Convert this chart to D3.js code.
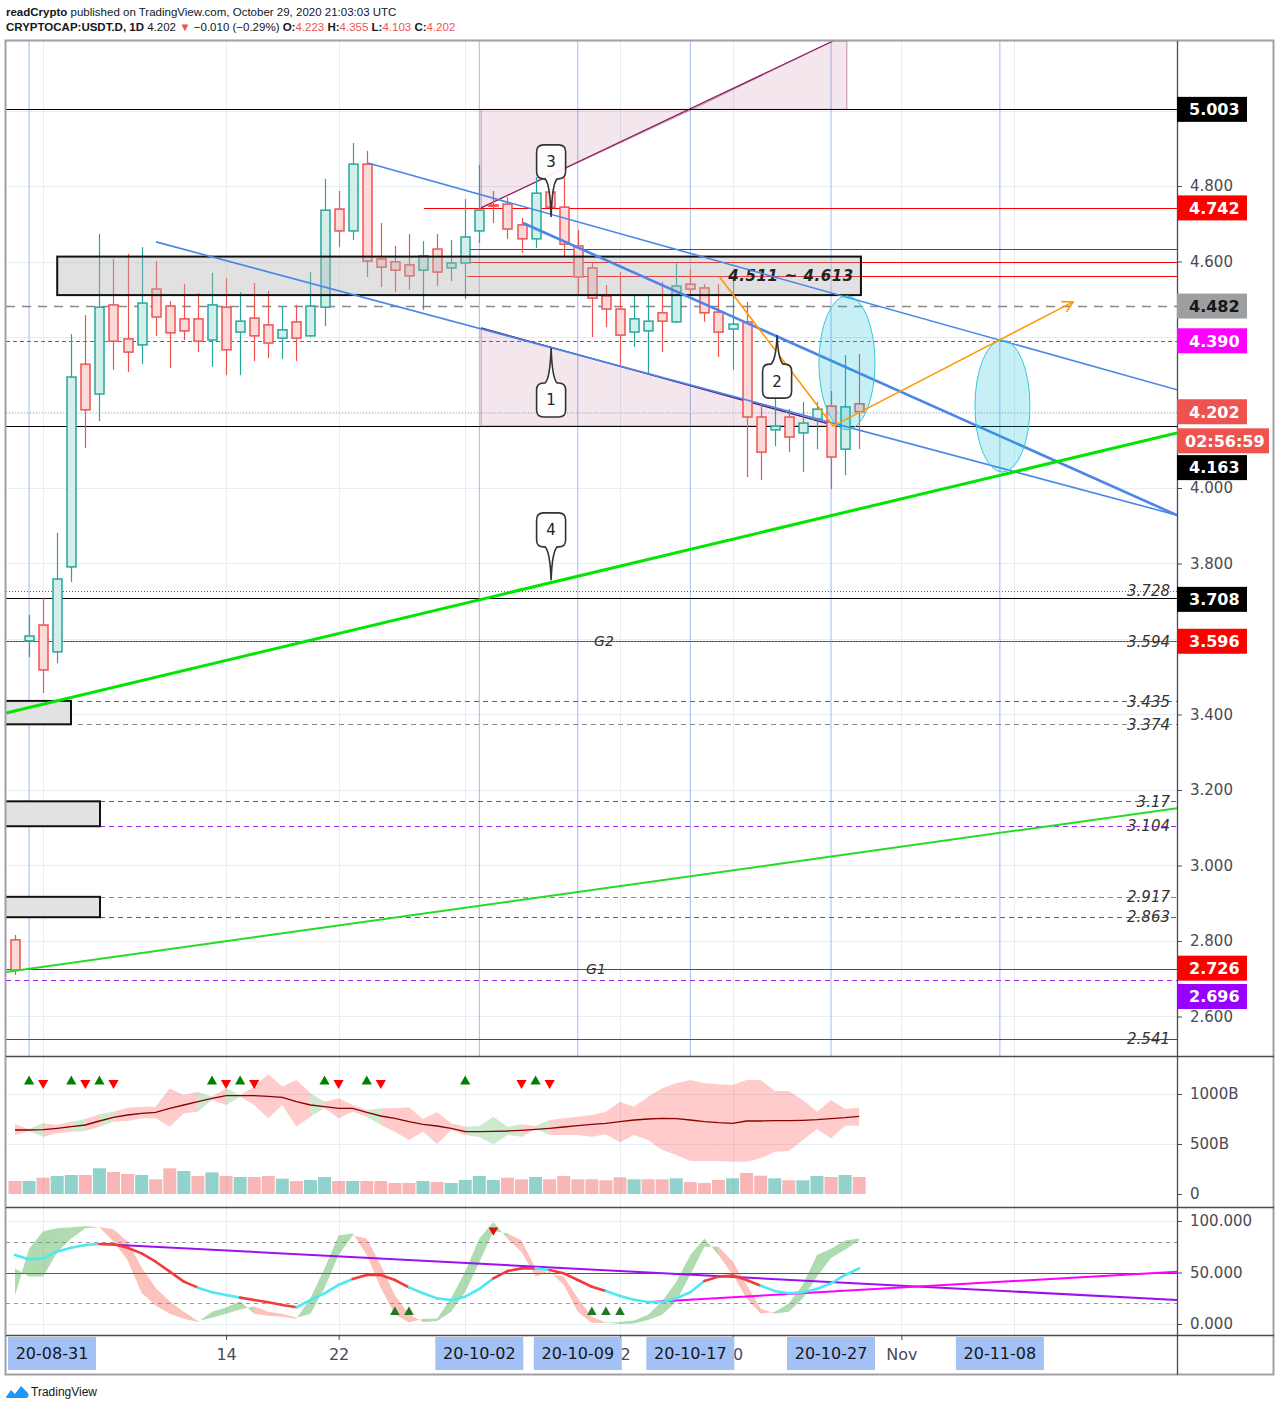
<!DOCTYPE html>
<html><head><meta charset="utf-8">
<script src="https://cdn.jsdelivr.net/npm/d3@7"></script>
<style>body{margin:0;background:#fff}svg{display:block}</style>
</head><body>
<svg id="c" width="1280" height="1409"></svg>
<script>
// ---------------- DATA ----------------
const dates = ["2020-08-30","2020-08-31","2020-09-01","2020-09-02","2020-09-03","2020-09-04","2020-09-05","2020-09-06","2020-09-07","2020-09-08","2020-09-09","2020-09-10","2020-09-11","2020-09-12","2020-09-13","2020-09-14","2020-09-15","2020-09-16","2020-09-17","2020-09-18","2020-09-19","2020-09-20","2020-09-21","2020-09-22","2020-09-23","2020-09-24","2020-09-25","2020-09-26","2020-09-27","2020-09-28","2020-09-29","2020-09-30","2020-10-01","2020-10-02","2020-10-03","2020-10-04","2020-10-05","2020-10-06","2020-10-07","2020-10-08","2020-10-09","2020-10-10","2020-10-11","2020-10-12","2020-10-13","2020-10-14","2020-10-15","2020-10-16","2020-10-17","2020-10-18","2020-10-19","2020-10-20","2020-10-21","2020-10-22","2020-10-23","2020-10-24","2020-10-25","2020-10-26","2020-10-27","2020-10-28","2020-10-29"];
const openP  = [2.803,3.595,3.637,3.566,3.791,4.328,4.249,4.485,4.395,4.379,4.527,4.482,4.448,4.448,4.392,4.479,4.413,4.450,4.432,4.397,4.440,4.403,4.479,4.739,4.681,4.858,4.607,4.599,4.591,4.577,4.633,4.583,4.596,4.681,4.750,4.752,4.697,4.660,4.784,4.744,4.641,4.583,4.509,4.474,4.413,4.416,4.464,4.440,4.540,4.530,4.466,4.421,4.440,4.188,4.154,4.188,4.146,4.183,4.217,4.103,4.223];
const highP  = [2.816,3.664,3.709,3.881,4.408,4.458,4.673,4.607,4.620,4.638,4.601,4.495,4.540,4.517,4.570,4.556,4.519,4.543,4.522,4.482,4.485,4.572,4.819,4.787,4.914,4.893,4.702,4.641,4.673,4.654,4.673,4.657,4.766,4.856,4.787,4.771,4.715,4.824,4.824,4.821,4.683,4.596,4.538,4.572,4.511,4.514,4.546,4.596,4.580,4.540,4.540,4.559,4.493,4.223,4.252,4.209,4.228,4.228,4.257,4.352,4.355];
const lowP   = [2.710,3.552,3.457,3.536,3.751,4.106,4.177,4.313,4.307,4.328,4.403,4.318,4.392,4.360,4.321,4.299,4.299,4.336,4.344,4.342,4.336,4.400,4.429,4.638,4.657,4.559,4.532,4.519,4.525,4.472,4.535,4.548,4.501,4.649,4.702,4.660,4.623,4.636,4.728,4.612,4.514,4.400,4.426,4.326,4.374,4.305,4.360,4.437,4.509,4.440,4.347,4.313,4.029,4.021,4.111,4.095,4.042,4.103,3.997,4.034,4.103];
const closeP = [2.723,3.608,3.518,3.759,4.294,4.207,4.479,4.389,4.360,4.490,4.453,4.411,4.416,4.389,4.485,4.366,4.442,4.403,4.384,4.419,4.397,4.482,4.736,4.681,4.858,4.601,4.585,4.577,4.562,4.615,4.572,4.596,4.665,4.736,4.747,4.686,4.660,4.781,4.744,4.646,4.559,4.503,4.474,4.405,4.448,4.442,4.442,4.535,4.527,4.464,4.413,4.434,4.188,4.095,4.164,4.135,4.172,4.209,4.082,4.215,4.202];

// volume (billions) and bar colours (r = red, g = teal)
const volume = [130,130,163,180,190,190,257,220,200,190,147,257,230,180,217,180,170,170,180,153,130,140,170,130,130,130,130,110,110,130,120,110,140,180,140,163,147,170,147,180,147,147,137,167,147,147,147,157,120,110,140,157,210,183,157,137,137,180,170,190,170];
const volColor = "rgrggrgrrgrrgrgrgrrgrggrgrrrrgrggggrrgrrrrrrgrrgrrrgrrgrggrgr";
// volume envelope (billions)
const volMA  = [640,640,643,657,673,690,730,767,790,807,817,857,890,923,957,983,983,983,977,967,923,890,873,857,857,817,780,757,723,697,680,657,623,623,627,630,637,647,657,670,683,697,707,723,740,750,757,753,740,723,713,707,730,730,733,733,737,743,753,763,777];
const bandHi = [697,650,707,690,723,750,797,823,863,873,873,1057,990,1023,973,1057,990,1073,1200,1073,1140,1007,923,957,890,840,857,857,867,750,817,707,673,680,773,673,697,680,740,757,773,790,823,923,873,973,1057,1107,1140,1107,1097,1090,1140,1140,1030,1030,940,823,940,850,863];
const bandLo = [590,630,573,607,623,630,673,723,730,757,757,673,807,823,940,890,973,890,757,890,673,773,857,757,823,773,690,623,540,623,500,640,590,570,497,590,573,650,590,590,590,573,597,517,590,540,440,390,330,330,330,323,323,357,423,430,540,650,557,683,683];
const bandCol = "rgrrgrgrrrrrrgrgrrrrrgrrrgrrrrrrggggrgrrrrrrrrrrrrrrrrrrrrrrr";
const volUpIdx = [1,4,6,14,16,22,25,32,37];
const volDownIdx = [2,5,7,15,17,23,26,36,38];

// oscillator
const stochK = [28,73,90,93,94,95,94,80,62,30,18,10,5,2,12,16,22,10,8,7,5,25,54,86,88,67,35,9.5,1.5,5,5,25,51,83,99,83,70,46,51,38,12,1,1,2,3.4,9,22,41,67,83,67,48,25,10,12,20,38,67,73,81,83];
const stochD = [54,46,46,70,83,93,94,92,80,55,35,22,12,3,6,10,14,17,12,10,6,10,35,67,86,83,57,28,9.5,2,3,12,31,60,90,88,81,54,49,46,25,7,1.5,0,0.5,4,9,22,48,75,75,61,38,15,10,12,25,46,64,72,81];
const smoothLine = [67,62.8,63.8,70.3,74.1,76.7,77.7,77.4,74.1,68.6,60.5,50.8,41.1,35.3,30.8,28.2,25.6,23.3,21.1,18.5,16.2,23.3,29.8,37.9,43.7,47.6,47.6,42.7,35.6,29.8,24.9,23.3,26.5,34,44.3,51.4,54,54,52.4,49.2,42.7,36.2,32,27.2,23.6,21.4,21.1,24.9,30.8,41.8,46,47,42.7,37.2,32,29.8,30.8,34,39.5,47.6,54];
const smoothCol = "ccccccrrrrrrrcccrrrrccccrrrrccccccrrrcrrrrcccccccrrrrccccccc";
const oscUpIdx = [27,28,41,42,43];
const oscDownIdx = [34];

// axis ticks (grid at every level, labels only where the reference shows them)
const gridPrices = [5.0,4.8,4.6,4.4,4.2,4.0,3.8,3.6,3.4,3.2,3.0,2.8,2.6];
const priceTicks = [4.8,4.6,4.0,3.8,3.4,3.2,3.0,2.8,2.6];
const volTicks = [0,500,1000];
const volTickLabels = ["0","500B","1000B"];
const oscTicks = [0,50,100];
const gridDates = ["2020-09-01","2020-09-14","2020-09-22","2020-10-01","2020-10-12","2020-10-20","2020-11-01","2020-11-09"];
const timeTicks = ["2020-09-14","2020-09-22","2020-10-12","2020-10-20","2020-11-01"];
const timeTickLabels = ["14","22","12","20","Nov"];
const markerDates = ["2020-08-31","2020-10-02","2020-10-09","2020-10-17","2020-10-27","2020-11-08"];
const markerLabels = ["20-08-31","20-10-02","20-10-09","20-10-17","20-10-27","20-11-08"];

// horizontal levels
const levels = [
  {p:5.003, from:null, color:"#000", w:1, dash:null},
  {p:4.742, from:"2020-09-28T01:40", color:"#ff0000", w:1, dash:null},
  {p:4.633, from:"2020-10-01T03:00", color:"#ff0000", w:1, dash:null},
  {p:4.598, from:"2020-10-01T03:00", color:"#ff0000", w:1, dash:null},
  {p:4.561, from:"2020-10-01T03:00", color:"#ff0000", w:1, dash:null},
  {p:4.482, from:null, color:"#888", w:1.6, dash:"9,7"},
  {p:4.390, from:null, color:"#ff00ff", w:1, dash:"4,3"},
  {p:4.202, from:null, color:"#b0bcc8", w:1, dash:"1,2"},
  {p:4.163, from:null, color:"#000", w:1, dash:null},
  {p:3.728, from:null, color:"#b04040", w:1, dash:"1,2"},
  {p:3.708, from:null, color:"#000", w:1, dash:null},
  {p:3.596, from:null, color:"#ff0000", w:1, dash:null},
  {p:3.594, from:null, color:"#6b8fe0", w:1, dash:"1,2"},
  {p:3.435, from:"2020-09-03T11:30", color:"#9c27f0", w:1, dash:"5,4"},
  {p:3.374, from:"2020-09-03T11:30", color:"#888", w:1, dash:"5,4"},
  {p:3.170, from:"2020-09-05T01:00", color:"#9c27f0", w:1, dash:"5,4"},
  {p:3.104, from:"2020-09-05T01:00", color:"#9c27f0", w:1, dash:"5,4"},
  {p:2.917, from:"2020-09-05T01:00", color:"#888", w:1, dash:"5,4"},
  {p:2.863, from:"2020-09-05T01:00", color:"#9c27f0", w:1, dash:"5,4"},
  {p:2.726, from:null, color:"#ff0000", w:1, dash:null},
  {p:2.696, from:null, color:"#9c27f0", w:1, dash:"5,4"},
  {p:2.541, from:null, color:"#ff0000", w:1, dash:null}
];
const levelTexts = ["3.728","3.594","3.435","3.374","3.17","3.104","2.917","2.863","2.541"];
const levelTextPrices = [3.728,3.594,3.435,3.374,3.17,3.104,2.917,2.863,2.541];

// price axis boxes: label, price position of box, background, text colour
const priceBoxes = [
  {t:"5.003", p:5.003, bg:"#000", fg:"#fff"},
  {t:"4.742", p:4.742, bg:"#ff0000", fg:"#fff"},
  {t:"4.482", p:4.482, bg:"#9e9e9e", fg:"#131722"},
  {t:"4.390", p:4.390, bg:"#ff00ff", fg:"#fff"},
  {t:"4.202", p:4.202, bg:"#ef5350", fg:"#fff"},
  {t:"02:56:59", p:4.125, bg:"#ef5350", fg:"#fff", wide:true},
  {t:"4.163", p:4.054, bg:"#000", fg:"#fff"},
  {t:"3.708", p:3.705, bg:"#000", fg:"#fff"},
  {t:"3.596", p:3.594, bg:"#ff0000", fg:"#fff"},
  {t:"2.726", p:2.728, bg:"#ff0000", fg:"#fff"},
  {t:"2.696", p:2.653, bg:"#9900ff", fg:"#fff"}
];

// drawings (date, price)
const trendLines = [
  {a:["2020-09-09T00:30",4.652], b:["2020-11-20T14:10",3.928], color:"#4a86e8", w:1.6},
  {a:["2020-09-24T02:00",4.861], b:["2020-11-20T14:10",4.260], color:"#4a86e8", w:1.6},
  {a:["2020-10-05T02:30",4.702], b:["2020-11-20T14:10",3.928], color:"#4a86e8", w:2.6},
  {a:["2020-08-29T08:38",3.404], b:["2020-11-20T14:10",4.146], color:"#00e600", w:3},
  {a:["2020-08-29T08:38",2.718], b:["2020-11-20T14:10",3.152], color:"#22dd22", w:2}
];
const orangePath = [["2020-10-19T02:00",4.559],["2020-10-27T03:20",4.164],["2020-11-13T05:00",4.493]];
const pinkUpperA = [["2020-10-02T03:00",5.003],["2020-10-02T03:00",4.742],["2020-10-17T03:00",5.003]];
const pinkUpperB = [["2020-10-17T03:00",5.003],["2020-10-27T03:20",5.184],["2020-10-28T03:00",5.184],["2020-10-28T03:00",5.003]];
const pinkLower  = [["2020-10-02T03:00",4.424],["2020-10-02T03:00",4.164],["2020-10-27T10:00",4.164]];
const zoneBox = {d0:"2020-09-02T00:00", d1:"2020-10-29T03:00", p0:4.511, p1:4.613};
const leftBoxes = [
  {d1:"2020-09-02T23:30", p0:3.374, p1:3.436},
  {d1:"2020-09-05T01:00", p0:3.104, p1:3.170},
  {d1:"2020-09-05T01:00", p0:2.863, p1:2.917}
];
const ellipses = [
  {d0:"2020-10-26T03:20", d1:"2020-10-30T03:00", p0:4.154, p1:4.509},
  {d0:"2020-11-06T05:30", d1:"2020-11-10T03:20", p0:4.042, p1:4.392}
];
const callouts = [
  {t:"1", d:"2020-10-07T02:30", p:4.233, tip:4.371},
  {t:"2", d:"2020-10-23T04:00", p:4.283, tip:4.405},
  {t:"3", d:"2020-10-07T02:30", p:4.864, tip:4.718},
  {t:"4", d:"2020-10-07T02:30", p:3.889, tip:3.756}
];
const oscLines = [
  {a:["2020-09-05T01:00",77.7], b:["2020-11-20T14:10",23.3], color:"#9c10f0"},
  {a:["2020-10-14T03:00",21.4], b:["2020-11-20T14:10",50.8], color:"#ff00ff"}
];

// ---------------- CHART ----------------
const T = s => new Date(s.length === 10 ? s + "T00:00:00Z" : s + ":00Z");
const L = 6, R = 1177, mainTop = 41, mainBot = 1056, volBot = 1207, oscBot = 1335;
const FONT = "DejaVu Sans, Verdana, sans-serif";

const x = d3.scaleUtc().domain([T("2020-08-29T08:38"), T("2020-11-20T14:10")]).range([L, R]);
const y = d3.scaleLinear().domain([2.49536, 5.18411]).range([mainBot, mainTop]);
const yv = d3.scaleLinear().domain([0, 1380]).range([1194, 1056]);
const yo = d3.scaleLinear().domain([0, 100]).range([1324, 1221]);

const svg = d3.select("#c");
svg.append("rect").attr("width", 1280).attr("height", 1409).attr("fill", "#fff");
const defs = svg.append("defs");
defs.append("clipPath").attr("id", "cm").append("rect").attr("x", L).attr("y", mainTop).attr("width", R - L).attr("height", mainBot - mainTop);
defs.append("clipPath").attr("id", "cv").append("rect").attr("x", L).attr("y", mainBot).attr("width", R - L).attr("height", volBot - mainBot);
defs.append("clipPath").attr("id", "co").append("rect").attr("x", L).attr("y", volBot).attr("width", R - L).attr("height", oscBot - volBot);

// header
const hdr = svg.append("g").attr("font-family", "Liberation Sans, Arial, sans-serif").attr("font-size", 11.5).attr("fill", "#131722");
const h1 = hdr.append("text").attr("x", 6).attr("y", 16);
h1.append("tspan").attr("font-weight", "bold").text("readCrypto");
h1.append("tspan").text(" published on TradingView.com, October 29, 2020 21:03:03 UTC");
const h2 = hdr.append("text").attr("x", 6).attr("y", 31);
h2.append("tspan").attr("font-weight", "bold").text("CRYPTOCAP:USDT.D, 1D");
h2.append("tspan").text(" 4.202 ");
h2.append("tspan").attr("fill", "#ef5350").text("▼");
h2.append("tspan").text(" −0.010 (−0.29%) ");
[["O:", "4.223"], [" H:", "4.355"], [" L:", "4.103"], [" C:", "4.202"]].forEach(([k, v]) => {
  h2.append("tspan").attr("font-weight", "bold").text(k);
  h2.append("tspan").attr("fill", "#ef5350").text(v);
});

// grid
const grid = svg.append("g").attr("stroke", "#e6edf3").attr("stroke-width", 1);
gridPrices.forEach(p => grid.append("line").attr("x1", L).attr("x2", R).attr("y1", Math.round(y(p)) + 0.5).attr("y2", Math.round(y(p)) + 0.5));
gridDates.forEach(d => grid.append("line").attr("x1", Math.round(x(T(d))) + 0.5).attr("x2", Math.round(x(T(d))) + 0.5).attr("y1", mainTop).attr("y2", oscBot));
[500, 1000].forEach(v => grid.append("line").attr("x1", L).attr("x2", R).attr("y1", Math.round(yv(v)) + 0.5).attr("y2", Math.round(yv(v)) + 0.5));
[0, 100].forEach(v => grid.append("line").attr("x1", L).attr("x2", R).attr("y1", Math.round(yo(v)) + 0.5).attr("y2", Math.round(yo(v)) + 0.5));

// ---- main pane ----
const main = svg.append("g").attr("clip-path", "url(#cm)");
markerDates.forEach(d => main.append("line").attr("x1", x(T(d))).attr("x2", x(T(d))).attr("y1", mainTop).attr("y2", mainBot).attr("stroke", "#9fbbf0").attr("stroke-width", 1));

const line = d3.line().x(d => x(T(d[0]))).y(d => y(d[1]));
[pinkUpperA, pinkUpperB, pinkLower].forEach(pts => {
  main.append("path").attr("d", line(pts) + "Z").attr("fill", "rgba(136,14,79,0.10)").attr("stroke", "rgba(136,14,79,0.45)").attr("stroke-width", 1);
});
main.append("line").attr("x1", x(T(pinkUpperA[1][0]))).attr("y1", y(pinkUpperA[1][1])).attr("x2", x(T(pinkUpperB[1][0]))).attr("y2", y(pinkUpperB[1][1])).attr("stroke", "#8a1c5c").attr("stroke-width", 1.2);
main.append("line").attr("x1", x(T(pinkLower[0][0]))).attr("y1", y(pinkLower[0][1])).attr("x2", x(T(pinkLower[2][0]))).attr("y2", y(pinkLower[2][1])).attr("stroke", "#5a1a6a").attr("stroke-width", 1.4);

levels.forEach(lv => {
  const yy = Math.round(y(lv.p)) + 0.5;
  main.append("line").attr("x1", lv.from ? x(T(lv.from)) : L).attr("x2", R).attr("y1", yy).attr("y2", yy)
    .attr("stroke", lv.color).attr("stroke-width", lv.w).attr("stroke-dasharray", lv.dash);
});

// candles
const candles = main.append("g");
dates.forEach((d, i) => {
  const up = closeP[i] >= openP[i];
  const stroke = up ? "#26a69a" : "#ef5350";
  const fill = up ? "#d3eeeb" : "#fbdad9";
  const cx = Math.round(x(T(d))) + 0.5;
  candles.append("line").attr("x1", cx).attr("x2", cx).attr("y1", y(highP[i])).attr("y2", y(lowP[i])).attr("stroke", stroke).attr("stroke-width", 1.2);
  const top = y(Math.max(openP[i], closeP[i])), bot = y(Math.min(openP[i], closeP[i]));
  candles.append("rect").attr("x", cx - 4.5).attr("y", top).attr("width", 9).attr("height", Math.max(1.5, bot - top))
    .attr("fill", fill).attr("stroke", stroke).attr("stroke-width", 1.5);
});

// grey zones
main.append("rect").attr("x", x(T(zoneBox.d0))).attr("y", y(zoneBox.p1)).attr("width", x(T(zoneBox.d1)) - x(T(zoneBox.d0))).attr("height", y(zoneBox.p0) - y(zoneBox.p1))
  .attr("fill", "rgba(175,175,175,0.38)").attr("stroke", "#111").attr("stroke-width", 2);
main.append("text").attr("x", x(T(zoneBox.d1)) - 7).attr("y", y((zoneBox.p0 + zoneBox.p1) / 2)).attr("dy", "0.35em")
  .attr("text-anchor", "end").attr("font-family", FONT).attr("font-size", 15).attr("font-style", "italic").attr("font-weight", "bold")
  .attr("letter-spacing", 0.6).attr("fill", "#222").text("4.511 ~ 4.613");
leftBoxes.forEach(b => {
  main.append("rect").attr("x", L - 2).attr("y", y(b.p1)).attr("width", x(T(b.d1)) - L + 2).attr("height", y(b.p0) - y(b.p1))
    .attr("fill", "#e2e2e2").attr("stroke", "#111").attr("stroke-width", 2);
});

trendLines.forEach(t => {
  main.append("line").attr("x1", x(T(t.a[0]))).attr("y1", y(t.a[1])).attr("x2", x(T(t.b[0]))).attr("y2", y(t.b[1]))
    .attr("stroke", t.color).attr("stroke-width", t.w);
});

ellipses.forEach(e => {
  const x0 = x(T(e.d0)), x1 = x(T(e.d1)), y0 = y(e.p1), y1 = y(e.p0);
  main.append("ellipse").attr("cx", (x0 + x1) / 2).attr("cy", (y0 + y1) / 2).attr("rx", (x1 - x0) / 2).attr("ry", (y1 - y0) / 2)
    .attr("fill", "rgba(0,188,212,0.22)").attr("stroke", "#38c8d8").attr("stroke-width", 1);
});

main.append("path").attr("d", line(orangePath)).attr("fill", "none").attr("stroke", "#ff9800").attr("stroke-width", 1.6);
{
  const p1 = orangePath[1], p2 = orangePath[2];
  const ax = x(T(p2[0])), ay = y(p2[1]), bx = x(T(p1[0])), by = y(p1[1]);
  const ang = Math.atan2(ay - by, ax - bx);
  const len = 12, spread = 0.5;
  const a1 = [ax - len * Math.cos(ang - spread), ay - len * Math.sin(ang - spread)];
  const a2 = [ax - len * Math.cos(ang + spread), ay - len * Math.sin(ang + spread)];
  main.append("path").attr("d", `M${a1[0]},${a1[1]}L${ax},${ay}L${a2[0]},${a2[1]}`).attr("fill", "none").attr("stroke", "#ff9800").attr("stroke-width", 1.6);
}

callouts.forEach(c => {
  const cx = x(T(c.d)), cy = y(c.p), ty = y(c.tip);
  const w = 29, h = 34, r = 7;
  const Lx = cx - w / 2, Rx = cx + w / 2, Tp = cy - h / 2, B = cy + h / 2;
  let d;
  if (ty < cy) {
    d = `M${Lx + r},${Tp} L${cx - 6},${Tp} Q${cx - 1},${Tp - 5} ${cx},${ty} Q${cx + 1},${Tp - 5} ${cx + 6},${Tp} L${Rx - r},${Tp} Q${Rx},${Tp} ${Rx},${Tp + r} L${Rx},${B - r} Q${Rx},${B} ${Rx - r},${B} L${Lx + r},${B} Q${Lx},${B} ${Lx},${B - r} L${Lx},${Tp + r} Q${Lx},${Tp} ${Lx + r},${Tp} Z`;
  } else {
    d = `M${Lx + r},${Tp} L${Rx - r},${Tp} Q${Rx},${Tp} ${Rx},${Tp + r} L${Rx},${B - r} Q${Rx},${B} ${Rx - r},${B} L${cx + 6},${B} Q${cx + 1},${B + 5} ${cx},${ty} Q${cx - 1},${B + 5} ${cx - 6},${B} L${Lx + r},${B} Q${Lx},${B} ${Lx},${B - r} L${Lx},${Tp + r} Q${Lx},${Tp} ${Lx + r},${Tp} Z`;
  }
  main.append("path").attr("d", d).attr("fill", "rgba(255,255,255,0.92)").attr("stroke", "#333").attr("stroke-width", 1.6);
  main.append("text").attr("x", cx).attr("y", cy).attr("dy", "0.36em").attr("text-anchor", "middle").attr("font-family", FONT).attr("font-size", 15).attr("fill", "#222").text(c.t);
});

levelTexts.forEach((t, i) => {
  main.append("text").attr("x", R - 7).attr("y", y(levelTextPrices[i])).attr("dy", "0.35em").attr("text-anchor", "end")
    .attr("font-family", FONT).attr("font-size", 15).attr("font-style", "italic").attr("fill", "#333").text(t);
});
main.append("text").attr("x", x(T("2020-10-10T20:40"))).attr("y", y(3.594)).attr("dy", "0.35em").attr("text-anchor", "middle")
  .attr("font-family", FONT).attr("font-size", 14).attr("font-style", "italic").attr("fill", "#333").text("G2");
main.append("text").attr("x", x(T("2020-10-10T07:00"))).attr("y", y(2.726)).attr("dy", "0.35em").attr("text-anchor", "middle")
  .attr("font-family", FONT).attr("font-size", 14).attr("font-style", "italic").attr("fill", "#333").text("G1");

// ---- volume pane ----
const vol = svg.append("g").attr("clip-path", "url(#cv)");
for (let i = 0; i < dates.length - 1; i++) {
  const xa = x(T(dates[i])), xb = x(T(dates[i + 1]));
  const pts = [[xa, yv(bandHi[i])], [xb, yv(bandHi[i + 1])], [xb, yv(bandLo[i + 1])], [xa, yv(bandLo[i])]];
  vol.append("path").attr("d", "M" + pts.join("L") + "Z")
    .attr("fill", bandCol[i] === "g" ? "rgba(76,175,80,0.28)" : "rgba(255,82,82,0.3)").attr("stroke", "none");
}
vol.append("path").attr("d", d3.line().x((d, i) => x(T(dates[i]))).y(d => yv(d))(volMA)).attr("fill", "none").attr("stroke", "#8b0000").attr("stroke-width", 1.3);
dates.forEach((d, i) => {
  const cx = x(T(d));
  vol.append("rect").attr("x", cx - 6.5).attr("width", 13).attr("y", yv(volume[i])).attr("height", yv(0) - yv(volume[i]))
    .attr("fill", volColor[i] === "g" ? "rgba(38,166,154,0.5)" : "rgba(239,83,80,0.42)");
});
const triUp = d3.symbol(d3.symbolTriangle, 45);
volUpIdx.forEach(i => vol.append("path").attr("d", triUp()).attr("transform", `translate(${x(T(dates[i]))},${yv(1125)})`).attr("fill", "#008000"));
volDownIdx.forEach(i => vol.append("path").attr("d", triUp()).attr("transform", `translate(${x(T(dates[i]))},${yv(1110)}) rotate(180)`).attr("fill", "#ff0000"));

// ---- oscillator pane ----
const osc = svg.append("g").attr("clip-path", "url(#co)");
[80, 20].forEach(v => osc.append("line").attr("x1", L).attr("x2", R).attr("y1", Math.round(yo(v)) + 0.5).attr("y2", Math.round(yo(v)) + 0.5).attr("stroke", "#999").attr("stroke-dasharray", "4,4"));
osc.append("line").attr("x1", L).attr("x2", R).attr("y1", Math.round(yo(50)) + 0.5).attr("y2", Math.round(yo(50)) + 0.5).attr("stroke", "#555");
for (let i = 0; i < dates.length - 1; i++) {
  const xa = x(T(dates[i])), xb = x(T(dates[i + 1]));
  const g = stochK[i] + stochK[i + 1] >= stochD[i] + stochD[i + 1];
  const pts = [[xa, yo(stochK[i])], [xb, yo(stochK[i + 1])], [xb, yo(stochD[i + 1])], [xa, yo(stochD[i])]];
  osc.append("path").attr("d", "M" + pts.join("L") + "Z").attr("fill", g ? "rgba(76,175,80,0.45)" : "rgba(244,80,60,0.35)");
}
oscLines.forEach(t => osc.append("line").attr("x1", x(T(t.a[0]))).attr("y1", yo(t.a[1])).attr("x2", x(T(t.b[0]))).attr("y2", yo(t.b[1])).attr("stroke", t.color).attr("stroke-width", 2));
for (let i = 0; i < dates.length - 1; i++) {
  osc.append("line").attr("x1", x(T(dates[i]))).attr("y1", yo(smoothLine[i])).attr("x2", x(T(dates[i + 1]))).attr("y2", yo(smoothLine[i + 1]))
    .attr("stroke", smoothCol[i] === "c" ? "#4de8f2" : "#f23c3c").attr("stroke-width", 2.6).attr("stroke-linecap", "round");
}
const triS = d3.symbol(d3.symbolTriangle, 40);
oscUpIdx.forEach(i => osc.append("path").attr("d", triS()).attr("transform", `translate(${x(T(dates[i]))},${yo(11.5)})`).attr("fill", "#1e7a1e"));
oscDownIdx.forEach(i => osc.append("path").attr("d", triS()).attr("transform", `translate(${x(T(dates[i]))},${yo(91)}) rotate(180)`).attr("fill", "#e01010"));

// ---- frame & separators ----
const frame = svg.append("g");
frame.append("rect").attr("x", L - 0.5).attr("y", mainTop - 0.5).attr("width", 1274 - L).attr("height", 1375 - mainTop).attr("fill", "none").attr("stroke", "#a0a0a8").attr("stroke-width", 2);
[mainBot, volBot, oscBot].forEach(yy => frame.append("line").attr("x1", L).attr("x2", 1274).attr("y1", yy + 0.5).attr("y2", yy + 0.5).attr("stroke", "#4a4a55").attr("stroke-width", 1.3));
frame.append("line").attr("x1", R + 0.5).attr("x2", R + 0.5).attr("y1", mainTop).attr("y2", 1375).attr("stroke", "#4a4a55").attr("stroke-width", 1.3);

// ---- axes ----
function styleAxis(g) {
  g.select(".domain").remove();
  g.selectAll(".tick line").attr("stroke", "#4a4a55");
  g.selectAll(".tick text").attr("font-family", FONT).attr("font-size", 15).attr("fill", "#4a4a55");
}
svg.append("g").attr("transform", `translate(${R},0)`)
  .call(d3.axisRight(y).tickValues(priceTicks).tickFormat(d3.format(".3f")).tickSize(5).tickPadding(8)).call(styleAxis);
svg.append("g").attr("transform", `translate(${R},0)`)
  .call(d3.axisRight(yv).tickValues(volTicks).tickFormat((d, i) => volTickLabels[i]).tickSize(5).tickPadding(8)).call(styleAxis);
svg.append("g").attr("transform", `translate(${R},0)`)
  .call(d3.axisRight(yo).tickValues(oscTicks).tickFormat(d3.format(".3f")).tickSize(5).tickPadding(8)).call(styleAxis);
svg.append("g").attr("transform", `translate(0,${oscBot})`)
  .call(d3.axisBottom(x).tickValues(timeTicks.map(T)).tickFormat((d, i) => timeTickLabels[i]).tickSize(5).tickPadding(9)).call(styleAxis)
  .selectAll(".tick text").attr("font-size", 16);

// marker date boxes on time axis
markerDates.forEach((d, i) => {
  const cx = x(T(d)), bw = 88;
  let bx = cx - bw / 2;
  if (bx < L + 2) bx = L + 2;
  svg.append("rect").attr("x", bx).attr("y", oscBot + 2).attr("width", bw).attr("height", 33).attr("fill", "#a3c1f4");
  svg.append("text").attr("x", bx + bw / 2).attr("y", oscBot + 18.5).attr("dy", "0.35em").attr("text-anchor", "middle")
    .attr("font-family", FONT).attr("font-size", 16).attr("fill", "#131722").text(markerLabels[i]);
});

// price boxes
priceBoxes.forEach(b => {
  const cy = y(b.p), bw = b.wide ? 92 : 70, bh = 25;
  svg.append("rect").attr("x", R).attr("y", cy - bh / 2).attr("width", bw).attr("height", bh).attr("fill", b.bg);
  svg.append("text").attr("x", R + (b.wide ? 8 : 12)).attr("y", cy).attr("dy", "0.36em").attr("font-family", FONT)
    .attr("font-size", 16).attr("font-weight", "bold").attr("fill", b.fg).text(b.t);
});

// TradingView logo
const logo = svg.append("g");
logo.append("path").attr("d", "M6,1397 L11,1390 L15,1394 L21,1386 L28,1393 Q30,1398 25,1398 L9,1398 Q5,1398 6,1397 Z").attr("fill", "#2196f3");
logo.append("text").attr("x", 31).attr("y", 1396).attr("font-family", "Liberation Sans, Arial, sans-serif").attr("font-size", 12).attr("fill", "#131722").text("TradingView");
</script>
</body></html>
